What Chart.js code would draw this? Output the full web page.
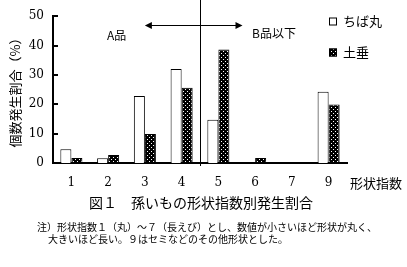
<!DOCTYPE html>
<html>
<head>
<meta charset="utf-8">
<script src="https://cdn.jsdelivr.net/npm/chart.js@4"></script>
<style>
  html, body { margin: 0; padding: 0; background: #fff; }
  #wrap { width: 407px; height: 267px; }
</style>
</head>
<body>
<div id="wrap"><canvas id="shapeChart" width="407" height="267"></canvas></div>
<script>
// 形状指数ごとの発生割合 (%)
const categories = ['1', '2', '3', '4', '5', '6', '7', '9'];
const chibamaru = [4.7, 1.6, 22.8, 32.0, 14.7, 0, 0, 24.3];
const dotare = [1.7, 2.7, 9.9, 25.6, 38.7, 1.7, 0, 19.9];
const yTicks = [0, 10, 20, 30, 40, 50];
const seriesNames = ['ちば丸', '土垂'];

const jp = '"Noto Sans CJK JP", sans-serif';
const serif = '"DejaVu Serif", "Liberation Serif", serif';

// black with white dots
function dotPattern() {
    let c = document.createElement('canvas');
    c.width = 4; c.height = 4;
    let g = c.getContext('2d');
    g.fillStyle = '#000';
    g.fillRect(0, 0, 4, 4);
    g.fillStyle = '#fff';
    g.fillRect(1, 1, 1, 1);
    g.fillRect(3, 3, 1, 1);
    return g.createPattern(c, 'repeat');
}
const dots = dotPattern();

function arrowHead(ctx, x, y, dir) {
    ctx.beginPath();
    ctx.moveTo(x, y);
    ctx.lineTo(x - dir * 7, y - 3.5);
    ctx.lineTo(x - dir * 7, y + 3.5);
    ctx.closePath();
    ctx.fill();
}

const extras = {
    id: 'extras',
    afterDraw(chart) {
        const ctx = chart.ctx;
        const x = chart.scales.x, y = chart.scales.y;
        ctx.save();
        ctx.fillStyle = '#000';
        ctx.strokeStyle = '#000';

        // inward y ticks
        ctx.lineWidth = 2;
        yTicks.forEach(v => {
            let py = Math.round(y.getPixelForValue(v));
            ctx.beginPath();
            ctx.moveTo(x.left - 1, py);
            ctx.lineTo(x.left + 5, py);
            ctx.stroke();
        });

        // A品 / B品以下 boundary between 4 and 5
        let sx = Math.round((x.getPixelForValue(3) + x.getPixelForValue(4)) / 2) + 0.5;
        ctx.lineWidth = 1;
        ctx.beginPath();
        ctx.moveTo(sx, 0);
        ctx.lineTo(sx, y.bottom + 3);
        ctx.stroke();
        let ay = 25.5;
        let ax1 = x.getPixelForValue(2);
        let ax2 = sx + 42;
        ctx.beginPath();
        ctx.moveTo(ax1 + 4, ay);
        ctx.lineTo(ax2 - 4, ay);
        ctx.stroke();
        arrowHead(ctx, ax1, ay, -1);
        arrowHead(ctx, ax2, ay, 1);

        ctx.font = '12px ' + jp;
        ctx.textBaseline = 'middle';
        ctx.textAlign = 'left';
        ctx.fillText('A品', 107, 35);
        ctx.fillText('B品以下', 252, 33);

        // legend
        const ds = chart.data.datasets;
        [21.5, 52.5].forEach((ly, i) => {
            ctx.fillStyle = ds[i].backgroundColor;
            ctx.fillRect(329, ly - 4, 8, 8);
            ctx.strokeStyle = '#000';
            ctx.strokeRect(329.5, ly - 3.5, 7, 7);
            ctx.fillStyle = '#000';
            ctx.font = '13px ' + jp;
            ctx.fillText(ds[i].label, 343, ly);
        });

        // x axis name, caption, note
        ctx.font = '13px ' + jp;
        ctx.fillText('形状指数', 350, 183);
        ctx.font = '14px ' + jp;
        ctx.textAlign = 'center';
        ctx.fillText('図１　孫いもの形状指数別発生割合', 201, 203);
        ctx.font = '10px ' + jp;
        ctx.textAlign = 'left';
        ctx.fillText('注）形状指数１（丸）～７（長えび）とし、数値が小さいほど形状が丸く、', 37, 227);
        ctx.fillText('大きいほど長い。９はセミなどのその他形状とした。', 48, 239);
        ctx.restore();
    }
};

new Chart(document.getElementById('shapeChart'), {
    type: 'bar',
    data: {
        labels: categories,
        datasets: [{
            label: seriesNames[0],
            data: chibamaru,
            backgroundColor: '#fff',
            borderColor: '#000',
            borderWidth: 1
        }, {
            label: seriesNames[1],
            data: dotare,
            backgroundColor: dots,
            borderColor: '#000',
            borderWidth: 1
        }]
    },
    options: {
        responsive: false,
        animation: false,
        devicePixelRatio: 1,
        layout: { padding: { left: 0, top: 16, right: 60, bottom: 74 } },
        datasets: { bar: { categoryPercentage: 0.6, barPercentage: 1 } },
        plugins: { legend: { display: false }, tooltip: { enabled: false } },
        scales: {
            x: {
                afterFit: s => { s.height = 30; },
                grid: { display: false, drawTicks: false },
                border: { display: true, color: '#000', width: 2 },
                ticks: { color: '#000', padding: 13, font: { family: serif, size: 12 } }
            },
            y: {
                min: 0,
                max: 50,
                afterFit: s => { s.width = 53; },
                grid: { display: false, drawTicks: false },
                border: { display: true, color: '#000', width: 2 },
                ticks: { stepSize: 10, color: '#000', padding: 9, font: { family: serif, size: 12 } },
                title: {
                    display: true,
                    text: '個数発生割合（%）',
                    color: '#000',
                    padding: { top: 7, bottom: 0 },
                    font: { family: jp, size: 13 }
                }
            }
        }
    },
    plugins: [extras]
});
</script>
</body>
</html>
